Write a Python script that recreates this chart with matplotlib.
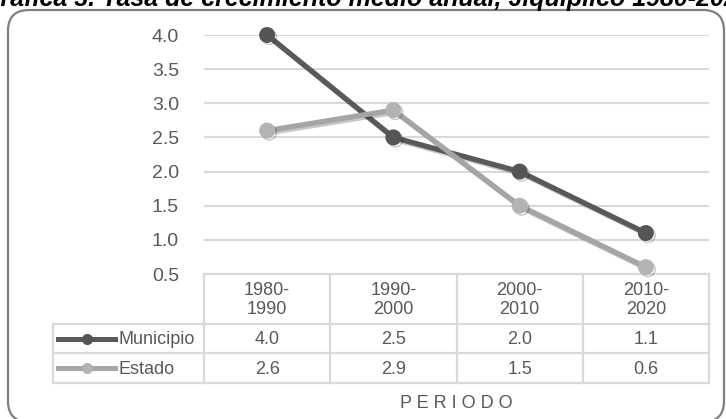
import matplotlib
matplotlib.use("Agg")
import matplotlib.pyplot as plt
import matplotlib.patheffects as pe
from matplotlib.patches import FancyBboxPatch
from matplotlib.transforms import blended_transform_factory

plt.rcParams['font.family'] = ['Liberation Sans', 'DejaVu Sans']

# ---- data ----
categories = ["1980-\n1990", "1990-\n2000", "2000-\n2010", "2010-\n2020"]
municipio = [4.0, 2.5, 2.0, 1.1]
estado = [2.6, 2.9, 1.5, 0.6]
series_names = ["Municipio", "Estado"]
yticks = [0.5, 1.0, 1.5, 2.0, 2.5, 3.0, 3.5, 4.0]
title = "Gráfica 3. Tasa de crecimiento medio anual, Jiquipilco 1980-2020"
xlabel = "P E R I O D O"

colors = ["#595959", "#a5a5a5"]
marker_colors = ["#555555", "#b3b3b3"]
txt = "#595959"
grid_c = "#d9d9d9"

W, H = 726, 419
fig = plt.figure(figsize=(W / 100, H / 100), dpi=100)

# background overlay axes in pixel coordinates
bg = fig.add_axes([0, 0, 1, 1], zorder=0)
bg.set_xlim(0, W)
bg.set_ylim(H, 0)
bg.axis('off')

box = FancyBboxPatch((8, 10), 716, 412, boxstyle="round,pad=0,rounding_size=21",
                     ec="#7f7f7f", fc="white", lw=1.6, clip_on=False)
bg.add_patch(box)
bg.text(-19, 6, title, fontsize=18, fontweight='bold', style='italic',
        ha='left', va='baseline', color='black', clip_on=False)

# chart axes
ax = fig.add_axes([204 / W, 1 - 274 / H, 505 / W, 239 / H], zorder=2)
ax.patch.set_alpha(0)
x = list(range(len(categories)))
ax.set_xlim(-0.5, len(categories) - 0.5)
ax.set_ylim(0.5, 4.0)
ax.set_yticks(yticks)
ax.set_yticklabels([f"{v:.1f}" for v in yticks])
ax.set_xticks([])
ax.tick_params(axis='y', length=0, pad=18, labelsize=14, labelcolor=txt)
for s in ax.spines.values():
    s.set_visible(False)
ax.grid(axis='y', color=grid_c, lw=1.5)
ax.set_axisbelow(True)

shadow = [pe.SimpleLineShadow(offset=(1.5, -1.5), shadow_color='black', alpha=0.22), pe.Normal()]
for vals, c, mc in zip([municipio, estado], colors, marker_colors):
    ax.plot(x, vals, color=c, lw=3.8, marker='o', ms=10.5, mfc=mc, mec=mc,
            clip_on=False, path_effects=shadow, zorder=3)

# table (x from chart scale, y in pixels)
tr = blended_transform_factory(ax.transData, bg.transData)
top, hdr_b, r1_b, r2_b = 274, 324, 353, 383
label_left = 53
lw_t = 1.6
n = len(categories)
for i in range(n + 1):
    bg.plot([i - 0.5, i - 0.5], [top, r2_b], color=grid_c, lw=lw_t, transform=tr, clip_on=False, zorder=1)
bg.plot([-0.5, n - 0.5], [top, top], color=grid_c, lw=lw_t, transform=tr, clip_on=False, zorder=1)
for yy in [hdr_b, r1_b, r2_b]:
    bg.plot([label_left, 709], [yy, yy], color=grid_c, lw=lw_t, clip_on=False, zorder=1)
bg.plot([label_left, label_left], [hdr_b, r2_b], color=grid_c, lw=lw_t, clip_on=False, zorder=1)

for i, cat in enumerate(categories):
    bg.text(i, (top + hdr_b) / 2 + 1, cat, transform=tr, ha='center', va='center',
            fontsize=13, color=txt, linespacing=1.2)

rows = [municipio, estado]
row_y = [(hdr_b + r1_b) / 2 + 1, (r1_b + r2_b) / 2 + 1]
for vals, yy, name, c, mc in zip(rows, row_y, series_names, colors, marker_colors):
    for i, v in enumerate(vals):
        bg.text(i, yy, f"{v:.1f}", transform=tr, ha='center', va='center', fontsize=13, color=txt)
    bg.plot([58, 115], [yy - 1, yy - 1], color=c, lw=3.6, zorder=3)
    bg.plot([87], [yy - 1], marker='o', ms=7, color=mc, zorder=4)
    bg.text(119, yy, name, ha='left', va='center', fontsize=13, color=txt)

bg.text((n - 1) / 2, 403, xlabel, transform=tr, ha='center', va='center', fontsize=13, color=txt)

fig.savefig("out.png", dpi=100)
